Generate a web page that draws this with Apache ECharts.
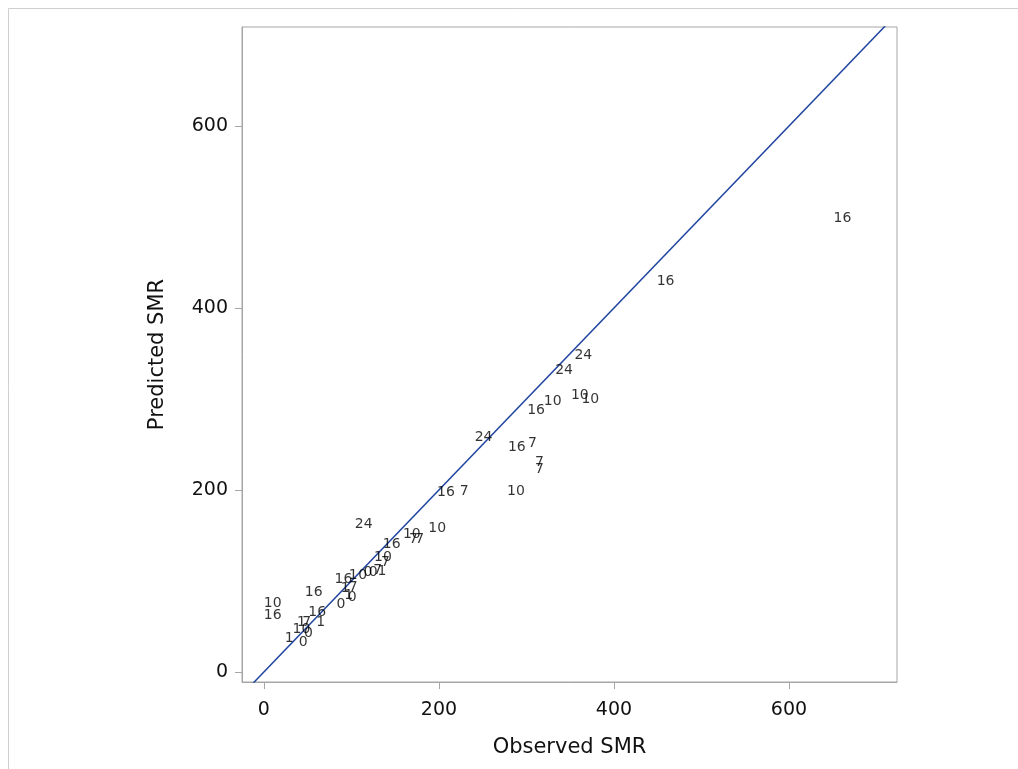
<!DOCTYPE html>
<html><head><meta charset="utf-8">
<script src="https://cdn.jsdelivr.net/npm/echarts@6/dist/echarts.min.js"></script>
<style>html,body{margin:0;padding:0;background:#fff}#c{width:1018px;height:769px}</style>
</head><body><div id="c"></div>
<script>
// Observed SMR, Predicted SMR, group label
const observed = [661,459,365,343,361,373,330,311,251,289,307,315,315,288,208,229,114,198,169,171,178,146,
  136,139,91,102,113,119,125,130,135,93,102,101,97,57,88,10,10,61,65,29,43,43,49,45,51];
const predicted = [499,429,348,331,304,300,297,287,258,247,251,230,223,199,197,198,162,158,151,146,146,140,
  126,121,102,106,106,109,110,112,111,92,93,82,84,88,74,75,62,65,55,37,47,54,55,33,43];
const groups = ['16','16','24','24','10','10','10','16','24','16','7','7','7','10','16','7','24','10','10','7','7','16',
  '10','7','16','1','0','0','0','7','1','1','7','0','1','16','0','10','16','16','1','1','10','1','7','0','0'];
const xTicks = [0,200,400,600];
const yTicks = [0,200,400,600];
const refLine = [[-30,-30],[740,740]];

const pts = observed.map((x,i)=>[x,predicted[i],groups[i]]);
const chart = echarts.init(document.getElementById('c'));
const font = 'DejaVu Sans';
chart.setOption({
  animation:false,
  graphic:[{type:'rect',shape:{x:8.5,y:8.5,width:1100,height:900},style:{fill:'none',stroke:'#cfcfcf',lineWidth:1}}],
  grid:{left:242,top:27,width:655,height:655,show:true,borderColor:'#a6a6a6',borderWidth:1,containLabel:false},
  xAxis:{type:'value',min:-25,max:723.4,
    name:'Observed SMR',nameLocation:'middle',nameGap:55,
    nameTextStyle:{fontFamily:font,fontSize:21,color:'#111'},
    axisLine:{show:true,onZero:false,lineStyle:{color:'#a6a6a6'}},
    axisTick:{show:true,length:7,lineStyle:{color:'#a6a6a6'},customValues:xTicks},
    axisLabel:{fontFamily:font,fontSize:19,color:'#111',margin:19,customValues:xTicks},
    splitLine:{show:false}},
  yAxis:{type:'value',min:-11,max:708.8,
    name:'Predicted SMR',nameLocation:'middle',nameGap:74,
    nameTextStyle:{fontFamily:font,fontSize:21,color:'#111'},
    axisLine:{show:true,onZero:false,lineStyle:{color:'#a6a6a6'}},
    axisTick:{show:true,length:7,lineStyle:{color:'#a6a6a6'},customValues:yTicks},
    axisLabel:{fontFamily:font,fontSize:19,color:'#111',margin:14,customValues:yTicks},
    splitLine:{show:false}},
  series:[
    {type:'line',data:refLine,symbol:'none',clip:true,lineStyle:{color:'#1f44a0',width:1.5},z:1},
    {type:'scatter',data:pts,symbolSize:2,itemStyle:{color:'rgba(0,0,0,0)'},z:3,
      label:{show:true,position:'inside',formatter:p=>p.value[2],fontFamily:font,fontSize:14,color:'#000'},
      labelLayout:{hideOverlap:false}}
  ]
});
</script></body></html>
